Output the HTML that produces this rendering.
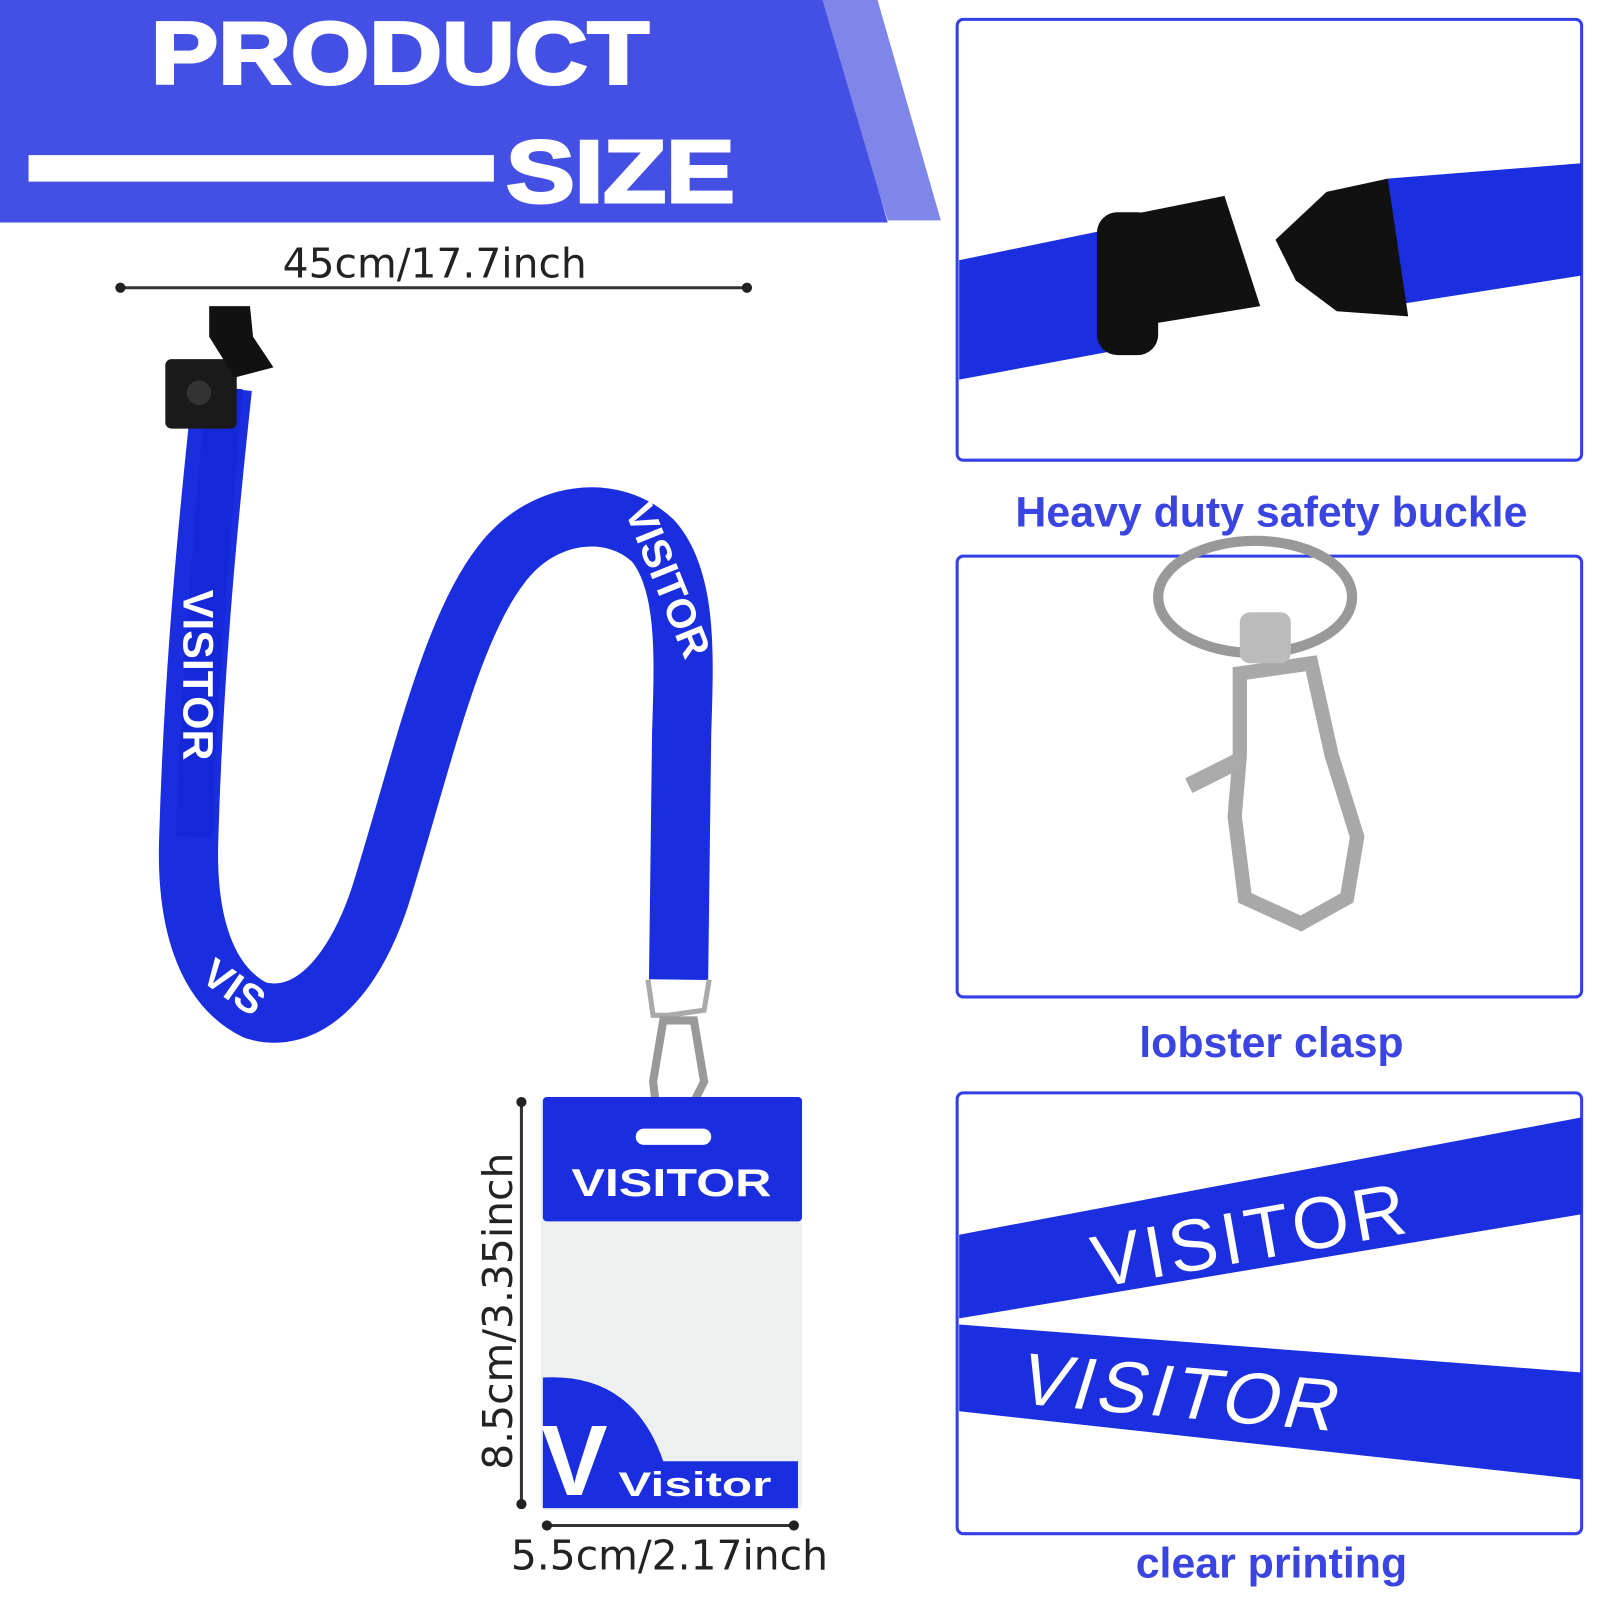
<!DOCTYPE html>
<html><head><meta charset="utf-8"><style>
html,body{margin:0;padding:0;background:#fff;}
svg{display:block}
</style></head><body>
<svg width="1600" height="1600" viewBox="0 0 1568 1568" xmlns="http://www.w3.org/2000/svg">
<rect width="1568" height="1568" fill="#fff"/>
<!-- header -->
<polygon points="800,0 860,0 922,216 870,216" fill="#7f86ea"/>
<polygon points="0,0 806,0 870,218 0,218" fill="#4450e4"/>
<text x="148" y="82" textLength="488" lengthAdjust="spacingAndGlyphs" font-family="Liberation Sans, sans-serif" font-weight="900" font-size="86" fill="#fff" stroke="#fff" stroke-width="3">PRODUCT</text>
<rect x="28" y="152" width="456" height="26" fill="#fff"/>
<text x="496" y="198" textLength="224" lengthAdjust="spacingAndGlyphs" font-family="Liberation Sans, sans-serif" font-weight="900" font-size="86" fill="#fff" stroke="#fff" stroke-width="3">SIZE</text>
<!-- top dimension -->
<text x="426" y="272" font-family="DejaVu Sans, sans-serif" font-size="40" fill="#222" text-anchor="middle">45cm/17.7inch</text>
<line x1="118" y1="282" x2="732" y2="282" stroke="#333" stroke-width="3"/>
<circle cx="118" cy="282" r="5" fill="#222"/><circle cx="732" cy="282" r="5" fill="#222"/>
<!-- lanyard -->
<path d="M218,380 C205,500 190,650 185,820 C182,900 200,965 250,990 C300,1005 345,960 372,880 C410,760 440,620 490,555 C530,500 600,492 640,530 C675,570 670,650 668,720 L665,960" fill="none" stroke="#1a2ee0" stroke-width="58" stroke-linejoin="round"/>
<path d="M220,380 C210,500 196,650 190,820" fill="none" stroke="#1428d8" stroke-width="36"/>
<text transform="translate(180,578) rotate(90)" font-family="Liberation Sans, sans-serif" font-weight="700" font-size="42" fill="#fff">VISITOR</text>
<text transform="translate(612,500) rotate(68)" font-family="Liberation Sans, sans-serif" font-weight="700" font-size="40" fill="#fff">VISITOR</text>
<text transform="translate(195,960) rotate(35)" font-family="Liberation Sans, sans-serif" font-weight="700" font-size="40" fill="#fff">VIS</text>
<!-- buckle -->
<rect x="162" y="352" width="70" height="68" rx="6" fill="#1a1a1a"/>
<path d="M205,300 L245,300 L248,330 L268,360 L230,370 L205,330 Z" fill="#111"/>
<circle cx="195" cy="385" r="12" fill="#333"/>
<!-- clasp -->
<path d="M635,960 L640,995 L655,995 L690,990 L695,960" fill="none" stroke="#aaa" stroke-width="5"/>
<path d="M650,1000 L640,1060 L645,1100 L670,1100 L690,1060 L680,1000 Z" fill="none" stroke="#999" stroke-width="8"/>
<!-- card -->
<rect x="530" y="1075" width="256" height="405" rx="6" fill="#eef0f0"/>
<rect x="532" y="1075" width="254" height="122" rx="4" fill="#1a2ee0"/>
<rect x="623" y="1106" width="74" height="16" rx="8" fill="#fff"/>
<text x="560" y="1172" textLength="196" lengthAdjust="spacingAndGlyphs" font-family="Liberation Sans, sans-serif" font-weight="700" font-size="38" fill="#fff">VISITOR</text>
<path d="M532,1350 Q620,1345 650,1432 L782,1432 L782,1478 L532,1478 Z" fill="#1a2ee0"/>
<text x="530" y="1465" font-family="Liberation Sans, sans-serif" font-weight="900" font-size="98" fill="#fff">V</text>
<text x="606" y="1466" textLength="150" lengthAdjust="spacingAndGlyphs" font-family="Liberation Sans, sans-serif" font-weight="700" font-size="34" fill="#fff">Visitor</text>
<!-- vertical dim -->
<line x1="511" y1="1080" x2="511" y2="1474" stroke="#333" stroke-width="3"/>
<circle cx="511" cy="1080" r="5" fill="#222"/><circle cx="511" cy="1474" r="5" fill="#222"/>
<text transform="translate(502,1285) rotate(-90)" font-family="DejaVu Sans, sans-serif" font-size="40" fill="#222" text-anchor="middle">8.5cm/3.35inch</text>
<line x1="536" y1="1495" x2="778" y2="1495" stroke="#333" stroke-width="3"/>
<circle cx="536" cy="1495" r="5" fill="#222"/><circle cx="778" cy="1495" r="5" fill="#222"/>
<text x="656" y="1538" font-family="DejaVu Sans, sans-serif" font-size="40" fill="#222" text-anchor="middle">5.5cm/2.17inch</text>
<!-- panels -->
<rect x="938" y="19" width="612" height="432" rx="6" fill="#fff" stroke="#3340e6" stroke-width="3"/>
<polygon points="940,255 1100,222 1112,340 940,372" fill="#1b2ee0"/>
<polygon points="1360,175 1550,160 1550,270 1360,300" fill="#1b2ee0"/>
<rect x="1075" y="208" width="60" height="140" rx="20" fill="#111"/>
<polygon points="1110,210 1200,192 1235,300 1125,318" fill="#111"/>
<polygon points="1300,188 1360,175 1380,310 1310,305 1270,275 1250,235" fill="#111"/>
<text x="1246" y="516" font-family="Liberation Sans, sans-serif" font-weight="700" font-size="42" fill="#3a44e0" text-anchor="middle">Heavy duty safety buckle</text>
<rect x="938" y="545" width="612" height="432" rx="6" fill="#fff" stroke="#3340e6" stroke-width="3"/>
<ellipse cx="1230" cy="585" rx="95" ry="55" fill="none" stroke="#999" stroke-width="10"/>
<path d="M1215,660 L1285,650 L1305,740 L1330,820 L1320,880 L1275,905 L1220,880 L1210,800 L1215,740 Z" fill="none" stroke="#a8a8a8" stroke-width="14"/>
<path d="M1165,770 L1215,745" stroke="#aaa" stroke-width="16"/>
<rect x="1215" y="600" width="50" height="50" rx="10" fill="#bbb"/>
<text x="1246" y="1036" font-family="Liberation Sans, sans-serif" font-weight="700" font-size="42" fill="#3a44e0" text-anchor="middle">lobster clasp</text>
<rect x="938" y="1071" width="612" height="432" rx="6" fill="#fff" stroke="#3340e6" stroke-width="3"/>
<polygon points="940,1210 1550,1095 1550,1190 940,1292" fill="#1b2ee0"/>
<polygon points="940,1298 1550,1345 1550,1450 940,1383" fill="#1b2ee0"/>
<text transform="translate(1075,1262) rotate(-10)" font-family="Liberation Sans, sans-serif" font-size="72" fill="#fff" letter-spacing="4">VISITOR</text>
<text transform="translate(995,1375) rotate(5) skewX(-12)" font-family="Liberation Sans, sans-serif" font-size="72" fill="#fff" letter-spacing="4">VISITOR</text>
<text x="1246" y="1546" font-family="Liberation Sans, sans-serif" font-weight="700" font-size="42" fill="#3a44e0" text-anchor="middle">clear printing</text>
</svg>
</body></html>
